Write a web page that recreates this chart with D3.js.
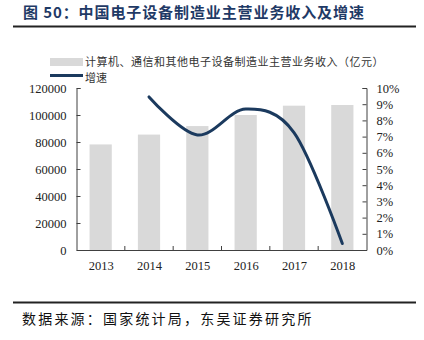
<!DOCTYPE html>
<html><head><meta charset="utf-8">
<script src="https://cdn.jsdelivr.net/npm/d3@7"></script>
<style>
html,body{margin:0;padding:0;background:#fff;}
svg{display:block;}
</style>
</head><body>
<svg id="c" width="424" height="340"></svg>
<script>
const years = ["2013","2014","2015","2016","2017","2018"];
const revenue = [78200, 85500, 91800, 100000, 106900, 107400];
const growthYears = ["2014","2015","2016","2017","2018"];
const growth = [9.45, 7.1, 8.7, 7.25, 0.4];
const leftTicks = [0,20000,40000,60000,80000,100000,120000];
const rightTicks = [0,1,2,3,4,5,6,7,8,9,10];
const titleText = "图 50：中国电子设备制造业主营业务收入及增速";
const legendBar = "计算机、通信和其他电子设备制造业主营业务收入（亿元）";
const legendLine = "增速";
const sourceText = "数据来源：国家统计局，东吴证券研究所";

(function(){
const svg = d3.select("#c");
const navy = "#1b3a5e";
const axisCol = "#404040";
const serif = "'Liberation Serif','DejaVu Serif',serif";
const cjk = "'Noto Sans CJK SC',sans-serif";

svg.append("text").attr("x",23).attr("y",18)
  .attr("font-family",cjk).attr("font-weight","bold").attr("font-size",15)
  .attr("fill","#1f3a66").attr("letter-spacing",0.9)
  .text(titleText);
svg.append("line").attr("x1",13).attr("x2",416).attr("y1",26.5).attr("y2",26.5)
  .attr("stroke","#222").attr("stroke-width",2);

svg.append("line").attr("x1",13).attr("x2",416).attr("y1",302.5).attr("y2",302.5)
  .attr("stroke","#222").attr("stroke-width",2);
svg.append("text").attr("x",22).attr("y",324)
  .attr("font-family",cjk).attr("font-size",14).attr("fill","#111")
  .attr("letter-spacing",2.2)
  .text(sourceText);

const pl = 76.5, pr = 366.5, pt = 88, pb = 250;
const x = d3.scaleBand().domain(years).range([pl,pr]).paddingInner(0.54).paddingOuter(0.27);
const xc = d3.scalePoint().domain(years).range([pl,pr]).padding(0.5);
const yL = d3.scaleLinear().domain([0,120000]).range([pb,pt]);
const yR = d3.scaleLinear().domain([0,10]).range([pb,pt]);

svg.append("g").selectAll("rect").data(years).join("rect")
  .attr("x",d=>x(d)).attr("width",x.bandwidth())
  .attr("y",(d,i)=>yL(revenue[i])).attr("height",(d,i)=>pb-yL(revenue[i]))
  .attr("fill","#d9d9d9");

const gL = svg.append("g").attr("transform",`translate(${pl},0)`)
  .call(d3.axisRight(yL).tickValues(leftTicks).tickSize(4).tickFormat(d3.format("d")));
gL.selectAll("text").attr("x",-10).attr("text-anchor","end");
const gR = svg.append("g").attr("transform",`translate(${pr},0)`)
  .call(d3.axisLeft(yR).tickValues(rightTicks).tickSize(4).tickFormat(d=>d+"%"));
gR.selectAll("text").attr("x",10).attr("text-anchor","start");
const gX = svg.append("g").attr("transform",`translate(0,${pb})`)
  .call(d3.axisBottom(xc).tickSize(0));
gX.selectAll("text").attr("dy",0).attr("y",20);
const bounds = years.slice(1).map(d=>xc(d)-xc.step()/2);
svg.append("g").selectAll("line").data(bounds).join("line")
  .attr("x1",d=>d).attr("x2",d=>d).attr("y1",pb).attr("y2",pb-4)
  .attr("stroke",axisCol);
[gL,gR,gX].forEach(g=>{
  g.select(".domain").attr("stroke",axisCol);
  g.selectAll(".tick line").attr("stroke",axisCol);
  g.selectAll("text").attr("font-family",serif).attr("font-size",12.5).attr("fill","#222");
});

const line = d3.line().x((d,i)=>xc(growthYears[i])).y(d=>yR(d)).curve(d3.curveCardinal.tension(0));
svg.append("path").datum(growth).attr("d",line)
  .attr("fill","none").attr("stroke",navy).attr("stroke-width",3).attr("stroke-linecap","round");

svg.append("rect").attr("x",50).attr("y",58).attr("width",33).attr("height",8).attr("fill","#d9d9d9");
svg.append("text").attr("x",85).attr("y",65.5).attr("font-family",cjk).attr("font-size",11).attr("fill","#333")
  .attr("letter-spacing",0.5)
  .text(legendBar);
svg.append("line").attr("x1",50).attr("x2",83).attr("y1",75.5).attr("y2",75.5)
  .attr("stroke",navy).attr("stroke-width",3);
svg.append("text").attr("x",85).attr("y",81.5).attr("font-family",cjk).attr("font-size",11).attr("fill","#333")
  .text(legendLine);
})();
</script>
</body></html>
